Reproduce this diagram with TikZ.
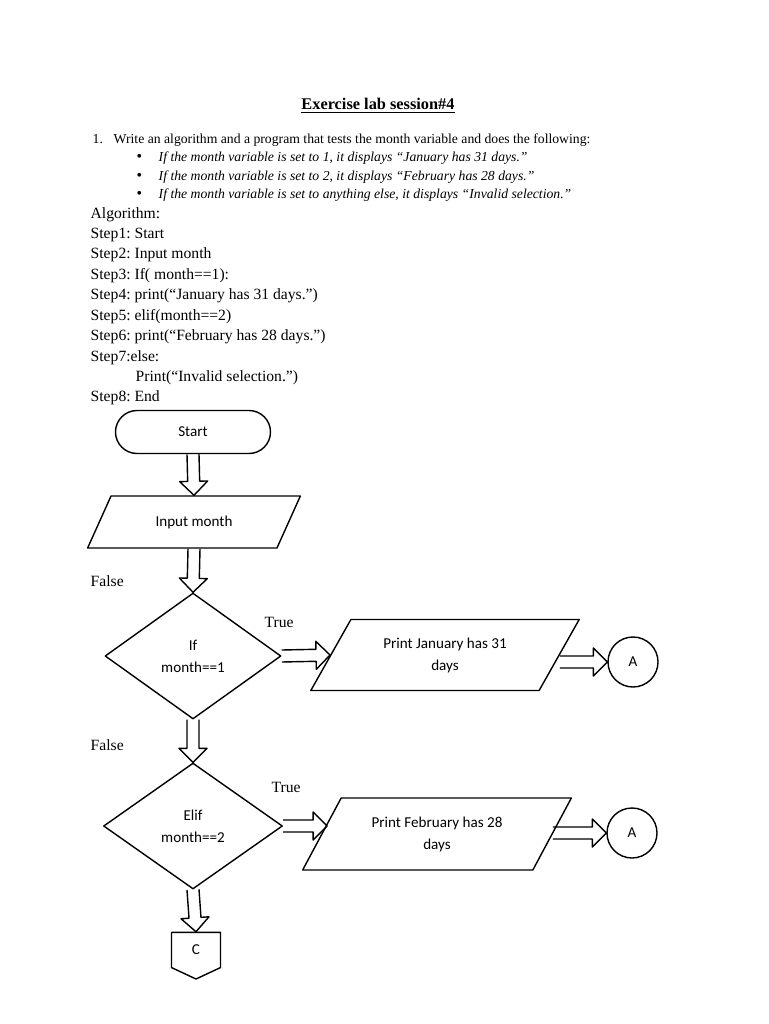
\documentclass[tikz,border=0pt]{standalone}
\usepackage{fontspec}
\setmainfont{Liberation Serif}
\newfontfamily\calfont{Carlito}
\usetikzlibrary{shapes.geometric,shapes.misc,shapes.symbols,calc}
\newdimen\pxu \pxu=0.02cm
\frenchspacing
\begin{document}
\begin{tikzpicture}[x=0.02cm, y=-0.02cm, line join=round, line width=0.8pt,
	txt/.style={anchor=base west, inner sep=0pt, font=\fontsize{8.9}{10}\selectfont},
	intro/.style={anchor=base west, inner sep=0pt, font=\fontsize{7.8}{10}\selectfont},
	box/.style={draw, align=center, inner sep=0pt, font=\calfont\fontsize{8.6}{12.5}\selectfont},
	para/.style={box, trapezium, trapezium stretches=true}]
	\useasboundingbox (0,0) rectangle (768,1024);
	\def\blockarrow#1#2{\coordinate (hb) at ($(#2)!14\pxu!(#1)$);
		\draw ($(#1)!6\pxu!90:(#2)$) -- ($(hb)!6\pxu!90:(#2)$) -- ($(hb)!14\pxu!90:(#2)$) -- (#2)
		-- ($(hb)!14\pxu!-90:(#2)$) -- ($(hb)!6\pxu!-90:(#2)$) -- ($(#1)!6\pxu!-90:(#2)$);}
	\node[anchor=base, inner sep=0pt, font=\fontsize{9.3}{11}\selectfont\bfseries] (title) at (378,110) {\underline{Exercise lab session\#4}};
	\node[intro] (q1) at (92,143) {1.};
	\node[intro] (q1t) at (113,143) {Write an algorithm and a program that tests the month variable and does the following:};
	\foreach \y/\t [count=\i] in {161/{If the month variable is set to 1, it displays “January has 31 days.”},
		180/{If the month variable is set to 2, it displays “February has 28 days.”},
		198/{If the month variable is set to anything else, it displays “Invalid selection.”}}
		{\node[intro, font=\fontsize{9}{10}\selectfont] (b\i) at (136,\y) {\textbullet};
		\node[intro, font=\fontsize{7.8}{10}\selectfont\itshape] (bt\i) at (158,\y) {\t};}
	\foreach \x/\t [count=\i from 0] in {90/Algorithm:, 90/Step1: Start, 90/Step2: Input month, 90/{Step3: If( month==1):},
		90/{Step4: print(“January has 31 days.”)}, 90/{Step5: elif(month==2)}, 90/{Step6: print(“February has 28 days.”)},
		90/Step7:else:, 135/{Print(“Invalid selection.”)}, 90/Step8: End}
		\node[txt] (alg\i) at (\x,218+20.44*\i) {\t};
	\node[box, rounded rectangle, minimum width=155\pxu, minimum height=43\pxu] (start) at (193,432) {Start};
	\node[para, trapezium left angle=50, trapezium right angle=130, minimum width=213\pxu, minimum height=52\pxu] (input) at (194,522) {Input month};
	\node[box, diamond, minimum width=176\pxu, minimum height=126\pxu] (if1) at (193,656) {If\\month==1};
	\node[box, diamond, minimum width=179\pxu, minimum height=126\pxu] (if2) at (193,826) {Elif\\month==2};
	\node[para, trapezium left angle=53, trapezium right angle=127, minimum width=271\pxu, minimum height=71\pxu] (jan) at (445,655) {Print January has 31\\days};
	\node[para, trapezium left angle=53, trapezium right angle=127, minimum width=269\pxu, minimum height=72\pxu] (feb) at (437,834) {Print February has 28\\days};
	\node[box, circle, minimum size=50\pxu] (a1) at (633,662) {A};
	\node[box, circle, minimum size=50\pxu] (a2) at (632,833) {A};
	\node[box, signal, signal to=south, signal pointer angle=130, minimum width=49\pxu, minimum height=37\pxu] (c) at (196,950) {C};
	\node[txt] (f1) at (90,586) {False};
	\node[txt] (f2) at (90,750) {False};
	\node[txt] (t1) at (264,627) {True};
	\node[txt] (t2) at (271,792) {True};
	\coordinate (j1) at (jan.east |- a1.west);
	\coordinate (j2) at (feb.east |- a2.west);
	\coordinate (e2) at ([xshift=6\pxu]if2.east -| feb.west);
	\blockarrow{start.south}{input.north}
	\blockarrow{input.south}{if1.north}
	\blockarrow{if1.south}{if2.north}
	\blockarrow{if2.south}{c.north}
	\blockarrow{if1.east}{jan.west}
	\blockarrow{if2.east}{e2}
	\blockarrow{j1}{a1.west}
	\blockarrow{j2}{a2.west}
\end{tikzpicture}
\end{document}
